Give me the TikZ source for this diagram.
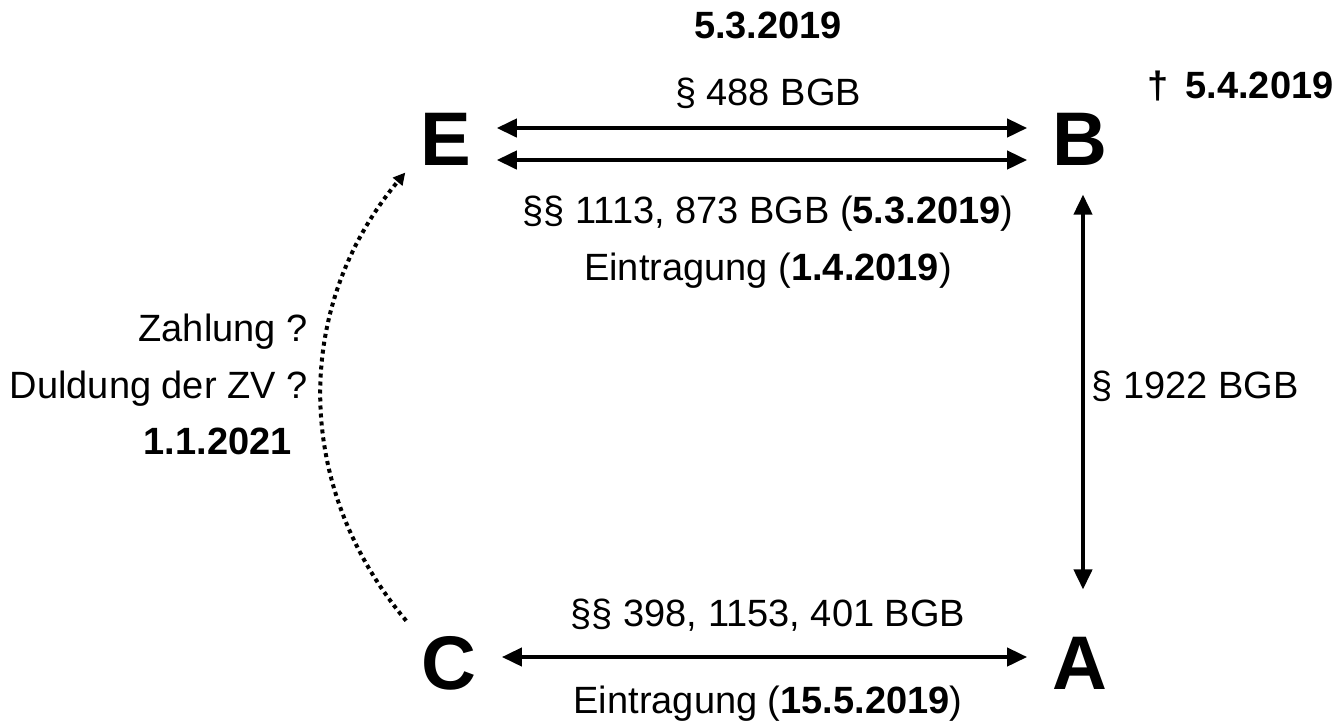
\documentclass[tikz,border=0pt]{standalone}
\usepackage{fontspec}
\setmainfont{Liberation Sans}
\usetikzlibrary{arrows.meta}

\begin{document}
\begin{tikzpicture}[x=0.5pt,y=-0.5pt,
  party/.style={font=\fontsize{38}{40}\selectfont\bfseries,inner xsep=12.5pt,inner ysep=14.5pt},
  lbl/.style={font=\fontsize{19}{22}\selectfont,inner sep=0pt},
  rel/.style={line width=2pt,{Triangle[length=10pt,width=9pt]}-{Triangle[length=10pt,width=9pt]}},
  zv/.style={line width=2pt,dash pattern=on 2pt off 2pt,-{Triangle[length=6pt,width=6pt]}}]
  \useasboundingbox (0,0) rectangle (1338,720);
  % the four parties
  \node[party] (E) at (446,139) {E};
  \node[party] (B) at (1080,139) {B};
  \node[party] (C) at (449,663) {C};
  \node[party] (A) at (1080,663) {A};
  % E -- B
  \node[lbl,anchor=base] (dl) at (768,38) {\bfseries 5.3.2019};
  \node[lbl,anchor=base] (loan) at (768,105) {§ 488 BGB};
  \node[lbl,anchor=base west] (death) at (1147,98) {\bfseries †\hspace{0.45em}5.4.2019};
  \draw[rel] ([yshift=5.5pt]E.east) -- ([yshift=5.5pt]B.west);
  \draw[rel] ([yshift=-10.5pt]E.east) -- ([yshift=-10.5pt]B.west);
  \node[lbl,anchor=base] (mortg) at (768,223) {§§ 1113, 873 BGB (\textbf{5.3.2019})};
  \node[lbl,anchor=base] (entry1) at (768,280) {Eintragung (\textbf{1.4.2019})};
  % B -- A
  \draw[rel] ([xshift=1.5pt]B.south) -- ([xshift=1.5pt,yshift=9pt]A.north);
  \node[lbl,anchor=base west] (heir) at (1091,398) {§ 1922 BGB};
  % C -- A
  \node[lbl,anchor=base] (assign) at (768,626) {§§ 398, 1153, 401 BGB};
  \draw[rel] ([yshift=3pt]C.east) -- ([yshift=3pt]A.west);
  \node[lbl,anchor=base] (entry2) at (768,713) {Eintragung (\textbf{15.5.2019})};
  % C -> E
  \draw[zv] ([xshift=5pt,yshift=-7pt]C.north west) to[bend left=40] ([xshift=5pt,yshift=11pt]E.south west);
  \node[lbl,anchor=base east] (pay) at (308,341) {Zahlung ?};
  \node[lbl,anchor=base east] (tol) at (308,398) {Duldung der ZV ?};
  \node[lbl,anchor=base east] (due) at (292,454) {\bfseries 1.1.2021};
\end{tikzpicture}
\end{document}
